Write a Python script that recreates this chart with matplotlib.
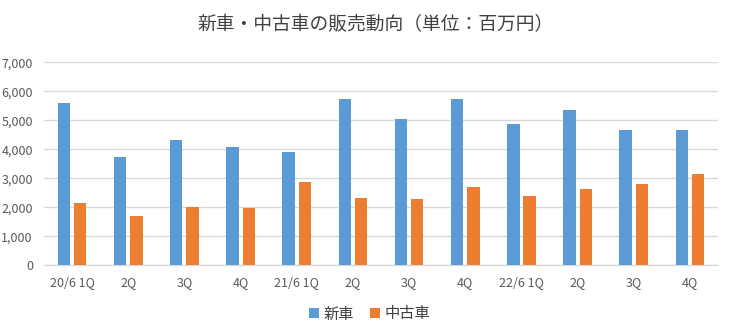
import matplotlib
matplotlib.use("Agg")
import matplotlib.pyplot as plt
import numpy as np
from matplotlib.ticker import FuncFormatter

plt.rcParams['font.family'] = ['Noto Sans CJK JP', 'DejaVu Sans']

categories = ["20/6 1Q", "2Q", "3Q", "4Q", "21/6 1Q", "2Q", "3Q", "4Q",
              "22/6 1Q", "2Q", "3Q", "4Q"]
new_cars = [5610, 3740, 4320, 4080, 3910, 5740, 5050, 5740, 4870, 5360, 4670, 4670]
used_cars = [2150, 1700, 2010, 1980, 2870, 2320, 2290, 2700, 2390, 2630, 2800, 3150]
series_names = ["新車", "中古車"]
title = "新車・中古車の販売動向（単位：百万円）"

blue = "#5B9BD5"
orange = "#ED7D31"
text_color = "#595959"
grid_color = "#D9D9D9"

fig = plt.figure(figsize=(7.29, 3.34), dpi=100)
ax = fig.add_axes([0.0604, 0.2057, 0.9246, 0.6078])

x = np.arange(len(categories))
w = 0.22
off = 0.145
ax.bar(x - off, new_cars, width=w, color=blue, label=series_names[0], zorder=3)
ax.bar(x + off, used_cars, width=w, color=orange, label=series_names[1], zorder=3)

ax.set_xlim(-0.5, len(categories) - 0.5)
ax.set_ylim(0, 7000)
ax.set_yticks(np.arange(0, 7001, 1000))
ax.yaxis.set_major_formatter(FuncFormatter(lambda v, p: f"{int(v):,}"))
ax.set_xticks(x)
ax.set_xticklabels(categories)

ax.grid(axis='y', color=grid_color, linewidth=1, zorder=0)
for s in ["top", "right", "left"]:
    ax.spines[s].set_visible(False)
ax.spines["bottom"].set_color(grid_color)
ax.spines["bottom"].set_linewidth(1)
ax.tick_params(axis='both', length=0, colors=text_color, labelsize=9)
ax.tick_params(axis='y', pad=8)
ax.tick_params(axis='x', pad=8)

fig.text(0.515, 0.925, title, ha='center', va='center', fontsize=13.5, color="#404040")

leg = fig.legend(loc='center', bbox_to_anchor=(0.507, 0.06), ncol=2, frameon=False,
                 fontsize=11, handlelength=0.7, handleheight=0.7, handletextpad=0.3,
                 columnspacing=1.0)
for t in leg.get_texts():
    t.set_color("#404040")

fig.savefig("out.png", dpi=100)
